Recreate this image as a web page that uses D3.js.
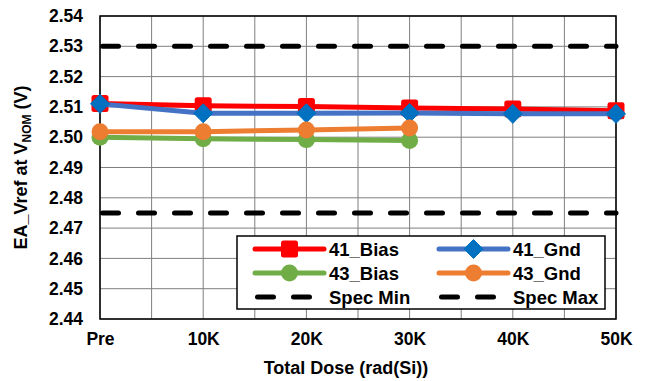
<!DOCTYPE html>
<html>
<head>
<meta charset="utf-8">
<script src="https://cdn.jsdelivr.net/npm/d3@7"></script>
<style>
  html, body { margin: 0; padding: 0; background: #fff; }
  svg text { font-family: "Liberation Sans", Arial, sans-serif; font-weight: bold; fill: #000; }
</style>
</head>
<body>
<svg id="chart" width="648" height="381"></svg>
<script>
// Categories (total dose steps)
const categories = ["Pre", "10K", "20K", "30K", "40K", "50K"];

// Measured EA_Vref (V) per unit / bias condition
const bias41 = [2.5111, 2.5104, 2.5101, 2.5096, 2.5093, 2.5087];
const gnd41  = [2.5110, 2.5079, 2.5079, 2.5080, 2.5077, 2.5077];
const bias43 = [2.5000, 2.4995, 2.4992, 2.4989];
const gnd43  = [2.5018, 2.5018, 2.5024, 2.5030];

// Spec limits
const specMin = 2.475;
const specMax = 2.53;

// Y axis ticks
const yTicks = [2.44, 2.45, 2.46, 2.47, 2.48, 2.49, 2.50, 2.51, 2.52, 2.53, 2.54];

(function () {
const svg = d3.select("#chart");
const pL = 100, pR = 616, pT = 16, pB = 319;

const x = d3.scalePoint().domain(categories).range([pL, pR]).padding(0);
const y = d3.scaleLinear().domain([2.44, 2.54]).range([pB, pT]);

const step = x.step();

// Grid: horizontal at every tick, vertical at every half category
const grid = svg.append("g");
grid.selectAll("line.h").data(yTicks).join("line")
  .attr("x1", pL).attr("x2", pR)
  .attr("y1", d => y(d)).attr("y2", d => y(d))
  .attr("stroke", "#7f7f7f").attr("stroke-width", 1);
const vPos = d3.range(0, categories.length * 2 - 1).map(i => pL + i * step / 2);
grid.selectAll("line.v").data(vPos).join("line")
  .attr("x1", d => d).attr("x2", d => d)
  .attr("y1", pT).attr("y2", pB)
  .attr("stroke", "#7f7f7f").attr("stroke-width", 1);

// Plot frame
svg.append("rect")
  .attr("x", pL).attr("y", pT)
  .attr("width", pR - pL).attr("height", pB - pT)
  .attr("fill", "none").attr("stroke", "#000").attr("stroke-width", 1.5);

// Y axis labels
const yAxis = d3.axisLeft(y).tickValues(yTicks).tickFormat(d3.format(".2f")).tickSize(0).tickPadding(17);
const yg = svg.append("g").attr("transform", `translate(${pL},0)`).call(yAxis);
yg.select(".domain").remove();
yg.selectAll("text").attr("font-size", 17.5).style("font-family", "'Liberation Sans', Arial, sans-serif").style("font-weight", "bold");

// X axis labels
const xAxis = d3.axisBottom(x).tickSize(0).tickPadding(14);
const xg = svg.append("g").attr("transform", `translate(0,${pB})`).call(xAxis);
xg.select(".domain").remove();
xg.selectAll("text").attr("font-size", 17.5).style("font-family", "'Liberation Sans', Arial, sans-serif").style("font-weight", "bold");

// Spec limit lines
const specStyle = sel => sel.attr("stroke", "#000").attr("stroke-width", 5)
  .attr("stroke-dasharray", "16,20").attr("stroke-linecap", "round");
[specMin, specMax].forEach(v => {
  svg.append("line")
    .attr("x1", pL + 2.5).attr("x2", pR)
    .attr("y1", y(v)).attr("y2", y(v))
    .call(specStyle);
});

// Series
const series = [
  { name: "41_Bias", values: bias41, line: "#ff0000", fill: "#ff0000", shape: "square" },
  { name: "41_Gnd",  values: gnd41,  line: "#4472c4", fill: "#0070c0", shape: "diamond" },
  { name: "43_Bias", values: bias43, line: "#70ad47", fill: "#70ad47", shape: "circle" },
  { name: "43_Gnd",  values: gnd43,  line: "#ed7d31", fill: "#ed7d31", shape: "circle" }
];

function drawMarker(g, shape, cx, cy, fill) {
  if (shape === "square") {
    g.append("rect").attr("x", cx - 8.5).attr("y", cy - 8.5)
      .attr("width", 17).attr("height", 17).attr("rx", 2.5)
      .attr("fill", fill);
  } else if (shape === "diamond") {
    const r = 9.5;
    g.append("path")
      .attr("d", `M${cx},${cy - r}L${cx + r},${cy}L${cx},${cy + r}L${cx - r},${cy}Z`)
      .attr("fill", fill).attr("stroke", fill).attr("stroke-width", 1).attr("stroke-linejoin", "round");
  } else {
    g.append("circle").attr("cx", cx).attr("cy", cy).attr("r", 8.5).attr("fill", fill);
  }
}

const lineGen = d3.line().x((d, i) => x(categories[i])).y(d => y(d));

series.forEach(s => {
  const g = svg.append("g");
  g.append("path").datum(s.values)
    .attr("d", lineGen)
    .attr("fill", "none").attr("stroke", s.line).attr("stroke-width", 5)
    .attr("stroke-linejoin", "round");
  s.values.forEach((v, i) => drawMarker(g, s.shape, x(categories[i]), y(v), s.fill));
});

// Legend
const lg = svg.append("g");
lg.append("rect").attr("x", 237).attr("y", 236).attr("width", 368).attr("height", 73)
  .attr("fill", "#fff").attr("stroke", "#000").attr("stroke-width", 1.5);

const legendItems = [
  { s: series[0], col: 0, row: 0 },
  { s: series[1], col: 1, row: 0 },
  { s: series[2], col: 0, row: 1 },
  { s: series[3], col: 1, row: 1 },
  { s: { name: "Spec Min", spec: true }, col: 0, row: 2 },
  { s: { name: "Spec Max", spec: true }, col: 1, row: 2 }
];
const colX = [255, 439];
const rowY = [249, 273, 297];
legendItems.forEach(it => {
  const x0 = colX[it.col], x1 = x0 + 69, yy = rowY[it.row];
  if (it.s.spec) {
    lg.append("line").attr("x1", x0 + 2.5).attr("x2", x1).attr("y1", yy).attr("y2", yy).call(specStyle);
  } else {
    lg.append("line").attr("x1", x0).attr("x2", x1).attr("y1", yy).attr("y2", yy)
      .attr("stroke", it.s.line).attr("stroke-width", 5).attr("stroke-linecap", "round");
    drawMarker(lg, it.s.shape, (x0 + x1) / 2, yy, it.s.fill);
  }
  lg.append("text").attr("x", x1 + 5).attr("y", yy + 6.5)
    .attr("font-size", 18.5).text(it.s.name);
});

// Axis titles
svg.append("text").attr("x", 346).attr("y", 374)
  .attr("text-anchor", "middle").attr("font-size", 18).text("Total Dose (rad(Si))");

const yt = svg.append("text")
  .attr("transform", `translate(27,${(pT + pB) / 2}) rotate(-90)`)
  .attr("text-anchor", "middle").attr("font-size", 18);
yt.append("tspan").text("EA_Vref at V");
yt.append("tspan").attr("font-size", 12).attr("dy", 4).text("NOM");
yt.append("tspan").attr("dy", -4).text(" (V)");
})();
</script>
</body>
</html>
